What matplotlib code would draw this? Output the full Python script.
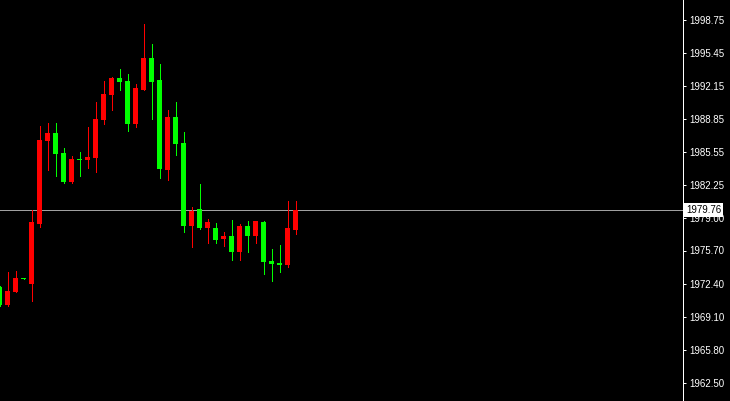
"""
Candlestick chart in the MT4 black style: bull candles red, bear candles green,
price scale on the right with the last price marked.
"""

import matplotlib
matplotlib.use('Agg')
import matplotlib.pyplot as plt
from matplotlib.transforms import blended_transform_factory

# OHLC per bar
opens = [1972.05, 1970.25, 1971.55, 1972.95, 1972.35, 1978.35, 1986.65, 1987.45,
         1985.45, 1982.55, 1984.85, 1984.75, 1984.95, 1988.75, 1991.25, 1992.95,
         1992.65, 1988.35, 1991.75, 1994.95, 1992.75, 1983.75, 1989.05, 1986.45,
         1978.15, 1979.85, 1977.95, 1977.95, 1976.85, 1977.15, 1975.55, 1978.15,
         1977.15, 1978.55, 1974.65, 1974.45, 1974.25, 1977.75]
highs = [1972.15, 1973.55, 1973.65, 1973.00, 1979.75, 1988.15, 1988.45, 1988.45,
         1985.95, 1985.15, 1985.55, 1988.05, 1990.55, 1992.65, 1993.05, 1993.85,
         1993.35, 1992.35, 1998.35, 1996.35, 1994.35, 1989.75, 1990.55, 1987.55,
         1980.05, 1982.35, 1978.85, 1978.45, 1977.55, 1978.75, 1978.35, 1978.65,
         1978.65, 1978.65, 1975.85, 1976.25, 1980.65, 1980.65]
lows = [1970.15, 1970.15, 1971.55, 1972.85, 1970.65, 1978.05, 1983.75, 1983.15,
        1982.45, 1982.45, 1983.15, 1983.95, 1983.55, 1988.35, 1989.75, 1991.75,
        1987.65, 1988.05, 1991.75, 1988.85, 1982.95, 1982.75, 1985.25, 1977.55,
        1976.05, 1977.85, 1976.45, 1976.45, 1976.15, 1974.75, 1974.75, 1975.55,
        1976.45, 1973.35, 1972.65, 1973.55, 1974.05, 1977.35]
closes = [1970.25, 1971.65, 1972.95, 1972.90, 1978.55, 1986.75, 1987.45, 1985.35,
          1982.55, 1984.85, 1984.80, 1985.05, 1988.85, 1991.35, 1992.95, 1992.55,
          1988.35, 1991.95, 1994.95, 1992.55, 1983.85, 1989.05, 1986.35, 1978.15,
          1979.65, 1977.95, 1978.55, 1976.75, 1977.15, 1975.55, 1978.15, 1977.15,
          1978.65, 1974.55, 1974.35, 1974.25, 1977.95, 1979.76]

last_price = 1979.76
price_ticks = [1998.75, 1995.45, 1992.15, 1988.85, 1985.55, 1982.25,
               1979.00, 1975.70, 1972.40, 1969.10, 1965.80, 1962.50]
tick_labels = ['1998.75', '1995.45', '1992.15', '1988.85', '1985.55', '1982.25',
               '1979.00', '1975.70', '1972.40', '1969.10', '1965.80', '1962.50']

BULL = '#ff0000'
BEAR = '#00ff00'
PX = 0.72  # one pixel in points at 100 dpi

fig = plt.figure(figsize=(7.30, 4.01), dpi=100, facecolor='black')
ax = fig.add_axes([0, 0, 682.5 / 730, 1])
ax.set_facecolor('black')

x = list(range(len(opens)))
colors = [BULL if c >= o else BEAR for o, c in zip(opens, closes)]
bottoms = [min(o, c) for o, c in zip(opens, closes)]
heights = [max(abs(c - o), 0.1) for o, c in zip(opens, closes)]

# wicks then bodies
ax.vlines(x, lows, highs, colors=colors, linewidth=PX, antialiased=False, zorder=2)
ax.bar(x, heights, bottom=bottoms, width=0.625, color=colors,
       linewidth=0, antialiased=False, zorder=3)

# last price line
ax.axhline(last_price, color='#a0a0a0', linewidth=PX, zorder=1)

# one bar every 8 px, first bar centred just off the left edge
ax.set_xlim(0.0625, 0.0625 + 682.5 / 8)
ax.set_ylim(1960.65, 2000.75)

for side in ['left', 'top', 'bottom']:
    ax.spines[side].set_visible(False)
ax.spines['right'].set_color('white')
ax.spines['right'].set_linewidth(PX)

ax.set_xticks([])
ax.yaxis.tick_right()
ax.set_yticks(price_ticks)
ax.set_yticklabels(tick_labels)
ax.tick_params(axis='y', colors='white', length=2.2, width=PX, pad=2.5,
               labelsize=7, labelcolor='white')
for lbl in ax.get_yticklabels():
    lbl.set_fontfamily('Liberation Sans')

# boxed last price on the scale
trans = blended_transform_factory(fig.transFigure, ax.transData)
fig.text(686 / 730, last_price, f'{last_price:.2f}', transform=trans,
         ha='left', va='center', fontsize=7, family='Liberation Sans',
         color='black', zorder=5,
         bbox=dict(boxstyle='square,pad=0.2', facecolor='white', edgecolor='none'))

fig.savefig('out.png', dpi=100, facecolor='black')
